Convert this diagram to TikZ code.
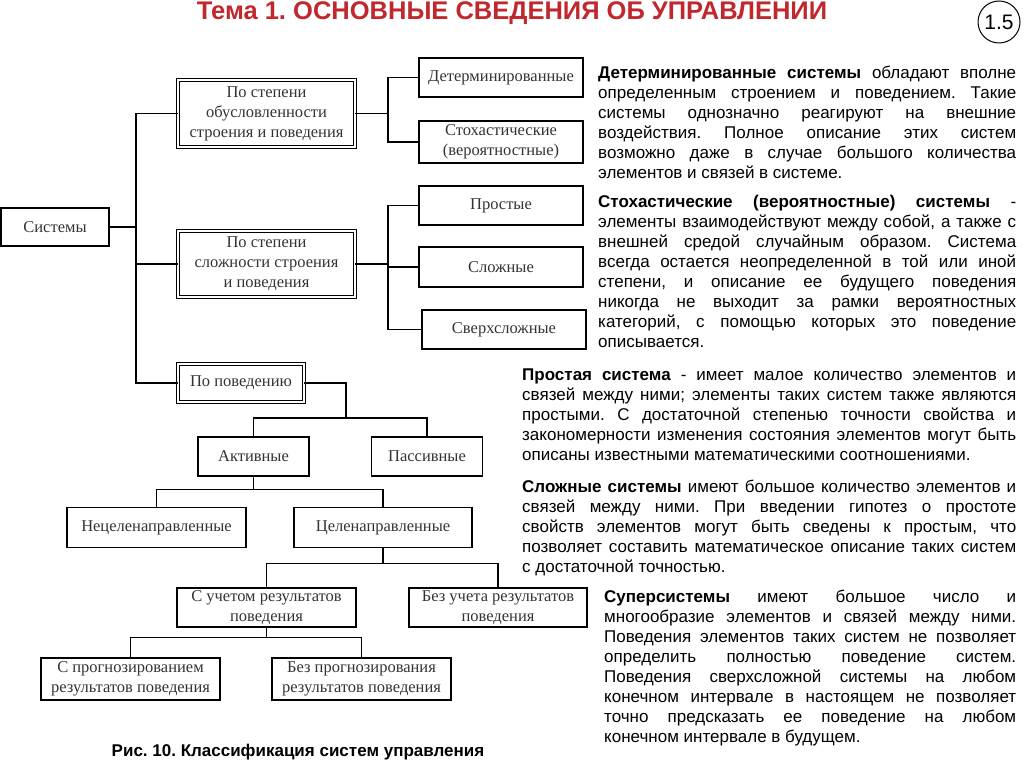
\documentclass[tikz,border=0pt]{standalone}
\usepackage{fontspec}
\setmainfont{Liberation Sans}
\newfontfamily\boxfont{Liberation Serif}
\usetikzlibrary{calc}
\definecolor{titlered}{RGB}{192,40,45}
\frenchspacing
\tikzset{
  box/.style={draw, line width=1.3pt, inner sep=0pt, align=center,
    font=\boxfont\fontsize{16.5}{20}\selectfont, text=black!80},
  catbox/.style={box, double, double distance=1.6pt, line width=0.9pt},
  para/.style={anchor=north west, inner sep=0pt, align=justify,
    font=\fontsize{17}{20}\selectfont},
  link/.style={line width=1.3pt}
}
\begin{document}
\begin{tikzpicture}[x=1pt, y=-1pt]
  \useasboundingbox (0,0) rectangle (1024,767);

  % title
  \node[font=\bfseries\fontsize{25.5}{28}\selectfont, text=titlered] (title) at (512,13) {Тема 1. ОСНОВНЫЕ СВЕДЕНИЯ ОБ УПРАВЛЕНИИ};
  \node[draw, circle, line width=1pt, minimum size=42pt, inner sep=0pt, font=\fontsize{21}{24}\selectfont] (num) at (999,22) {1.5};

  % tree
  \node[box, minimum width=108, minimum height=38] (sys) at (55,227) {Системы};
  \node[catbox, minimum width=177, minimum height=67] (c1) at (266.5,113.5) {По степени\\обусловленности\\строения и поведения};
  \node[catbox, minimum width=177, minimum height=66] (c2) at (266.5,264) {По степени\\сложности строения\\и поведения};
  \node[catbox, minimum width=126, minimum height=38] (c3) at (241,383) {По поведению};

  \node[box, minimum width=164, minimum height=39] (det) at (501,77.5) {Детерминированные};
  \node[box, minimum width=164, minimum height=42] (stoch) at (501,142) {Стохастические\\(вероятностные)};
  \node[box, minimum width=164, minimum height=39] (prost) at (501,205.5) {Простые};
  \node[box, minimum width=164, minimum height=40] (slozh) at (501,267) {Сложные};
  \node[box, minimum width=164, minimum height=39] (sverkh) at (504,329.5) {Сверхсложные};

  \node[box, minimum width=111, minimum height=39] (akt) at (253.5,456.5) {Активные};
  \node[box, minimum width=111, minimum height=39] (pass) at (427,456.5) {Пассивные};
  \node[box, minimum width=179, minimum height=40] (necel) at (156.5,527.5) {Нецеленаправленные};
  \node[box, minimum width=178, minimum height=40] (cel) at (383,527.5) {Целенаправленные};
  \node[box, minimum width=179, minimum height=39] (sucht) at (266.5,607.5) {С учетом результатов\\поведения};
  \node[box, minimum width=178, minimum height=39] (bezuch) at (498,607.5) {Без учета результатов\\поведения};
  \node[box, minimum width=179, minimum height=42] (sprogn) at (130.5,679) {С прогнозированием\\результатов поведения};
  \node[box, minimum width=179, minimum height=42] (bezprogn) at (361.5,679) {Без прогнозирования\\результатов поведения};

  \coordinate (tr) at (136,0);
  \coordinate (b1) at (388,0);
  \draw[link] (c1.west) -- (c1.west -| tr) |- (c3.west);
  \draw[link] (sys.east) -- (sys.east -| tr);
  \draw[link] (c2.west) -- (c2.west -| tr);

  \draw[link] (c1.east) -- (c1.east -| b1);
  \draw[link] (det.west) -- (det.west -| b1) -- (stoch.west -| b1) -- (stoch.west);
  \draw[link] (c2.east) -- (c2.east -| b1);
  \draw[link] (prost.west) -- (prost.west -| b1) -- (sverkh.west -| b1) -- (sverkh.west);
  \draw[link] (slozh.west) -- (slozh.west -| b1);

  \coordinate (r3) at (346,418);
  \draw[link] (c3.east) -| (r3);
  \draw[link] (akt.north) |- (r3) -| (pass.north);
  \draw[link] (akt.south) -- ++(0,13) coordinate (a1);
  \draw[link] (necel.north) |- (a1) -| (cel.north);
  \draw[link] (cel.south) -- ++(0,15) coordinate (a2);
  \draw[link] (sucht.north) |- (a2) -| (bezuch.north);
  \draw[link] (sucht.south) -- ++(0,10) coordinate (a3);
  \draw[link] (sprogn.north) |- (a3) -| (bezprogn.north);

  \node[font=\bfseries\fontsize{17}{20}\selectfont] (cap) at (298,752) {Рис. 10. Классификация систем управления};

  % text
  \node[para, text width=418] (p1) at (598,66) {\textbf{Детерминированные системы} обладают вполне\linebreak
    определенным строением и поведением. Такие\linebreak
    системы однозначно реагируют на внешние\linebreak
    воздействия. Полное описание этих систем\linebreak
    возможно даже в случае большого количества\linebreak
    элементов и связей в системе.};
  \node[para, text width=418] (p2) at (598,195) {\textbf{Стохастические (вероятностные) системы} -\linebreak
    элементы взаимодействуют между собой, а также с\linebreak
    внешней средой случайным образом. Система\linebreak
    всегда остается неопределенной в той или иной\linebreak
    степени, и описание ее будущего поведения\linebreak
    никогда не выходит за рамки вероятностных\linebreak
    категорий, с помощью которых это поведение\linebreak
    описывается.};
  \node[para, text width=494] (p3) at (522,369) {\textbf{Простая система} - имеет малое количество элементов и\linebreak
    связей между ними; элементы таких систем также являются\linebreak
    простыми. С достаточной степенью точности свойства и\linebreak
    закономерности изменения состояния элементов могут быть\linebreak
    описаны известными математическими соотношениями.};
  \node[para, text width=494] (p4) at (522,480) {\textbf{Сложные системы} имеют большое количество элементов и\linebreak
    связей между ними. При введении гипотез о простоте\linebreak
    свойств элементов могут быть сведены к простым, что\linebreak
    позволяет составить математическое описание таких систем\linebreak
    с достаточной точностью.};
  \node[para, text width=412] (p5) at (604,590) {\textbf{Суперсистемы} имеют большое число и\linebreak
    многообразие элементов и связей между ними.\linebreak
    Поведения элементов таких систем не позволяет\linebreak
    определить полностью поведение систем.\linebreak
    Поведения сверхсложной системы на любом\linebreak
    конечном интервале в настоящем не позволяет\linebreak
    точно предсказать ее поведение на любом\linebreak
    конечном интервале в будущем.};
\end{tikzpicture}
\end{document}
